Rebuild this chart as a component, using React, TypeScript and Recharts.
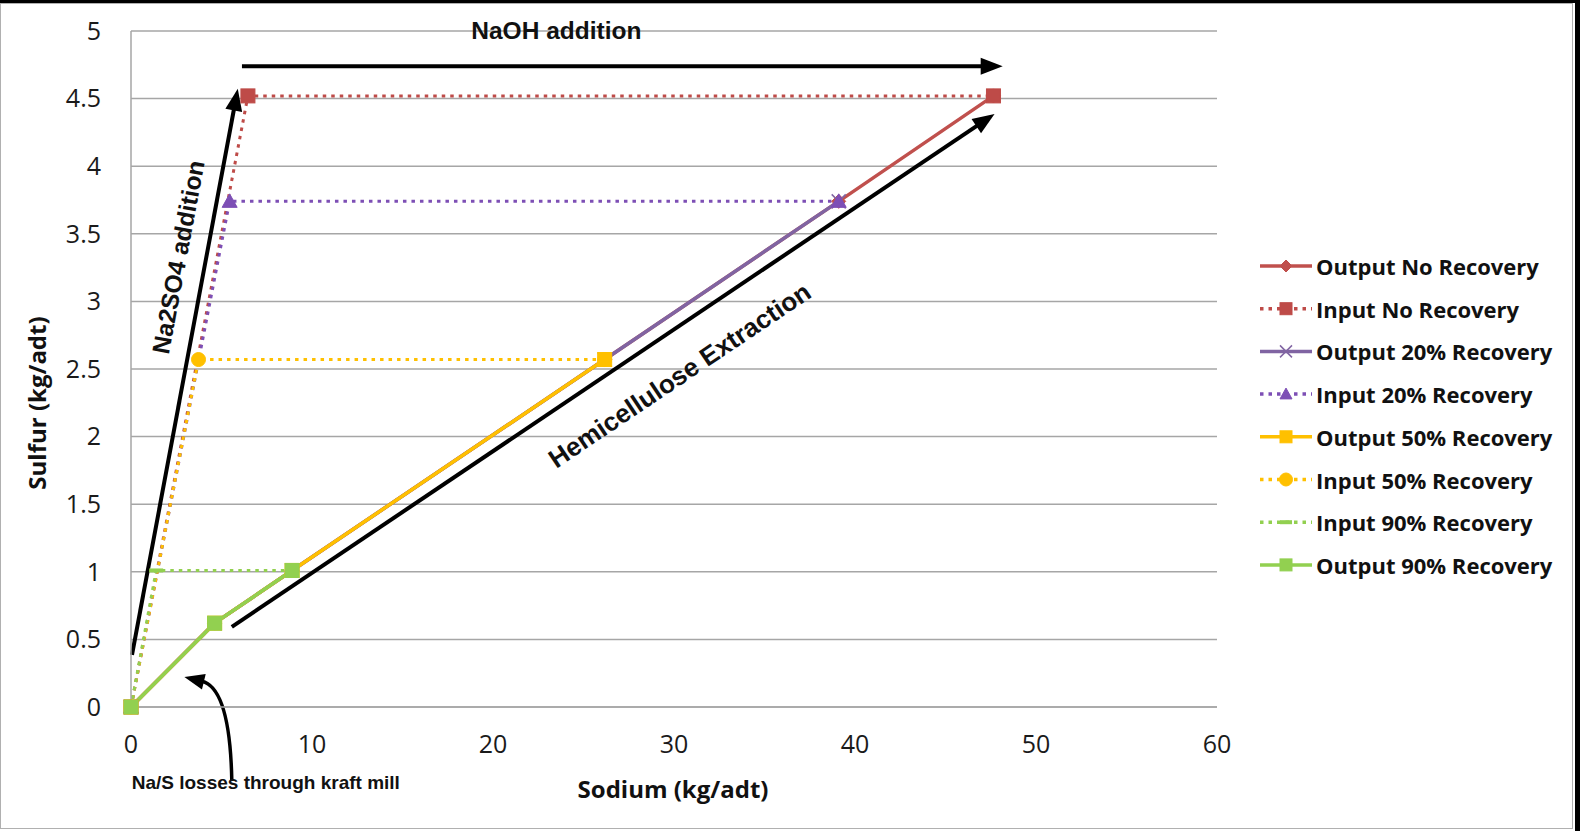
import React from 'react';
import { LineChart, Line, XAxis, YAxis, CartesianGrid, ReferenceLine } from 'recharts';

const xTicks = [0, 10, 20, 30, 40, 50, 60];
const yTicks = [0, 0.5, 1, 1.5, 2, 2.5, 3, 3.5, 4, 4.5, 5];

const outputNoRecovery = [
  { x: 0, y: 0 }, { x: 4.62, y: 0.62 }, { x: 8.9, y: 1.01 }, { x: 26.17, y: 2.57 }, { x: 39.1, y: 3.74 }, { x: 47.65, y: 4.52 },
];
const inputNoRecovery = [{ x: 0, y: 0 }, { x: 6.46, y: 4.52 }, { x: 47.65, y: 4.52 }];
const output20 = [
  { x: 0, y: 0 }, { x: 4.62, y: 0.62 }, { x: 8.9, y: 1.01 }, { x: 26.17, y: 2.57 }, { x: 39.1, y: 3.74 },
];
const input20 = [{ x: 0, y: 0 }, { x: 5.45, y: 3.74 }, { x: 39.1, y: 3.74 }];
const output50 = [{ x: 0, y: 0 }, { x: 4.62, y: 0.62 }, { x: 8.9, y: 1.01 }, { x: 26.17, y: 2.57 }];
const input50 = [{ x: 0, y: 0 }, { x: 3.73, y: 2.57 }, { x: 26.17, y: 2.57 }];
const input90 = [{ x: 0, y: 0 }, { x: 1.39, y: 1.01 }, { x: 8.9, y: 1.01 }];
const output90 = [{ x: 0, y: 0 }, { x: 4.62, y: 0.62 }, { x: 8.9, y: 1.01 }];

type Series = { name: string; data: { x: number; y: number }[]; color: string; dashed: boolean; marker: string };

const S: Record<string, Series> = {
  outNo: { name: 'Output No Recovery', data: outputNoRecovery, color: '#C0504D', dashed: false, marker: 'diamond' },
  inNo: { name: 'Input No Recovery', data: inputNoRecovery, color: '#BE4B48', dashed: true, marker: 'square' },
  out20: { name: 'Output 20% Recovery', data: output20, color: '#8064A2', dashed: false, marker: 'x' },
  in20: { name: 'Input 20% Recovery', data: input20, color: '#7D4FB5', dashed: true, marker: 'triangle' },
  out50: { name: 'Output 50% Recovery', data: output50, color: '#FFC000', dashed: false, marker: 'square' },
  in50: { name: 'Input 50% Recovery', data: input50, color: '#FFC000', dashed: true, marker: 'circle' },
  in90: { name: 'Input 90% Recovery', data: input90, color: '#92D050', dashed: true, marker: 'dash' },
  out90: { name: 'Output 90% Recovery', data: output90, color: '#92D050', dashed: false, marker: 'square' },
};

const drawOrder = ['outNo', 'inNo', 'out20', 'in20', 'in50', 'out50', 'in90', 'out90'];
const legendOrder = ['outNo', 'inNo', 'out20', 'in20', 'out50', 'in50', 'in90', 'out90'];

const annotations = [
  { id: 'naoh', label: 'NaOH addition', from: { x: 6.13, y: 4.74 }, to: { x: 48.16, y: 4.74 }, along: -66, perp: 35.5, fontSize: 24.5 },
  { id: 'na2so4', label: 'Na2SO4 addition', from: { x: 0.055, y: 0.385 }, to: { x: 5.9, y: 4.573 }, along: 111.7, perp: 27.6, fontSize: 24.5 },
  { id: 'hemi', label: 'Hemicellulose Extraction', from: { x: 5.57, y: 0.593 }, to: { x: 47.71, y: 4.387 }, along: 52.4, perp: -41, fontSize: 26 },
];
const lossArrow = { label: 'Na/S losses through kraft mill', from: { x: 5.57, y: -0.547 }, control: { x: 5.47, y: 0.14 }, to: { x: 2.95, y: 0.221 } };

const GRID = '#A6A6A6';

function Marker({ type, cx, cy, color, s }: { type: string; cx: number; cy: number; color: string; s: number }) {
  const h = s / 2;
  switch (type) {
    case 'square':
      return <rect x={cx - h} y={cy - h} width={s} height={s} fill={color} stroke={color} strokeWidth={1} />;
    case 'diamond':
      return <polygon points={`${cx},${cy - h} ${cx + h},${cy} ${cx},${cy + h} ${cx - h},${cy}`} fill={color} stroke={color} />;
    case 'triangle':
      return <polygon points={`${cx},${cy - h} ${cx + h},${cy + h * 0.8} ${cx - h},${cy + h * 0.8}`} fill={color} stroke={color} />;
    case 'circle':
      return <circle cx={cx} cy={cy} r={h} fill={color} stroke={color} />;
    case 'x':
      return (
        <g stroke={color} strokeWidth={1.5}>
          <line x1={cx - h} y1={cy - h} x2={cx + h} y2={cy + h} />
          <line x1={cx - h} y1={cy + h} x2={cx + h} y2={cy - h} />
        </g>
      );
    case 'dash':
      return <rect x={cx - h} y={cy - 2} width={s} height={4} fill={color} />;
    default:
      return null;
  }
}

const makeArrow = (a: typeof annotations[number]) => (p: any) => {
  const { x1, y1, x2, y2 } = p;
  const dx = x2 - x1, dy = y2 - y1;
  const len = Math.hypot(dx, dy);
  const ux = dx / len, uy = dy / len;
  const nx = uy, ny = -ux;
  const hl = 22, hw = 8.5;
  const bx = x2 - ux * hl, by = y2 - uy * hl;
  const mx = (x1 + x2) / 2 + ux * a.along + nx * a.perp;
  const my = (y1 + y2) / 2 + uy * a.along + ny * a.perp;
  const ang = (Math.atan2(uy, ux) * 180) / Math.PI;
  return (
    <g>
      <line x1={x1} y1={y1} x2={bx + ux * 2} y2={by + uy * 2} stroke="#000" strokeWidth={4} />
      <polygon points={`${x2},${y2} ${bx + nx * hw},${by + ny * hw} ${bx - nx * hw},${by - ny * hw}`} fill="#000" />
      <text
        transform={`translate(${mx},${my}) rotate(${ang})`}
        textAnchor="middle"
        dominantBaseline="central"
        fontFamily="'Liberation Sans', Arial, sans-serif"
        fontWeight="bold"
        fontSize={a.fontSize}
        fill="#111"
      >
        {a.label}
      </text>
    </g>
  );
};

const curvedArrow = (p: any) => {
  const { x1, y1, x2, y2 } = p;
  const a = lossArrow;
  const cx = x1 + ((a.control.x - a.from.x) / (a.to.x - a.from.x)) * (x2 - x1);
  const cy = y1 + ((a.control.y - a.from.y) / (a.to.y - a.from.y)) * (y2 - y1);
  const dx = x2 - cx, dy = y2 - cy;
  const len = Math.hypot(dx, dy);
  const ux = dx / len, uy = dy / len;
  const nx = uy, ny = -ux;
  const hl = 20, hw = 8;
  const bx = x2 - ux * hl, by = y2 - uy * hl;
  return (
    <g>
      <path d={`M${x1},${y1} Q${cx},${cy} ${bx + ux * 2},${by + uy * 2}`} fill="none" stroke="#000" strokeWidth={3.5} />
      <polygon points={`${x2},${y2} ${bx + nx * hw},${by + ny * hw} ${bx - nx * hw},${by - ny * hw}`} fill="#000" />
      <text
        x={x1 + 34}
        y={y1 + 2}
        textAnchor="middle"
        dominantBaseline="central"
        fontFamily="'Liberation Sans', Arial, sans-serif"
        fontWeight="bold"
        fontSize={19}
        fill="#111"
      >
        {a.label}
      </text>
    </g>
  );
};

const tickStyle = { fontSize: 25, fill: '#1a1a1a', fontFamily: "'Open Sans', sans-serif" };

function LegendBox() {
  const rowH = 42.7;
  return (
    <svg width={320} height={360} style={{ position: 'absolute', left: 1258, top: 245 }}>
      {legendOrder.map((k, i) => {
        const s = S[k];
        const cy = 21 + i * rowH;
        return (
          <g key={k}>
            <line x1={2} y1={cy} x2={54} y2={cy} stroke={s.color} strokeWidth={3.5} strokeDasharray={s.dashed ? '3.5 5' : undefined} />
            <Marker type={s.marker} cx={28} cy={cy} color={s.color} s={s.marker === 'circle' ? 13 : 12} />
            <text x={58} y={cy} dominantBaseline="central" fontFamily="'Open Sans', sans-serif" fontWeight="bold" fontSize={22} fill="#111">
              {s.name}
            </text>
          </g>
        );
      })}
    </svg>
  );
}

export default function App() {
  return (
    <div style={{ position: 'absolute', left: 0, top: 0, width: 1580, height: 831, background: '#fff', overflow: 'hidden' }}>
      <div style={{ position: 'absolute', left: 0, top: 3, width: 1571, height: 824, border: '1.5px solid #B0B0B0' }} />
      <div style={{ position: 'absolute', left: 0, top: 0, width: 1580, height: 3, background: '#000' }} />
      <div style={{ position: 'absolute', left: 1575, top: 0, width: 5, height: 831, background: '#000' }} />
      <div style={{ position: 'absolute', left: 0, top: 0 }}>
        <LineChart width={1580} height={831} margin={{ top: 31, right: 363, bottom: 0, left: 0 }}>
          <CartesianGrid horizontal vertical={false} stroke={GRID} strokeWidth={1.5} />
          <XAxis
            type="number"
            dataKey="x"
            domain={[0, 60]}
            ticks={xTicks}
            height={124}
            axisLine={{ stroke: GRID, strokeWidth: 1.5 }}
            tickLine={false}
            tickSize={0}
            tickMargin={28}
            tick={tickStyle}
            label={{
              content: (p: any) => {
                const vb = p.viewBox;
                return (
                  <text x={vb.x + vb.width / 2 - 1} y={vb.y + 81} textAnchor="middle" dominantBaseline="central" fontFamily="'Open Sans', sans-serif" fontWeight="bold" fontSize={24} fill="#111">
                    Sodium (kg/adt)
                  </text>
                );
              },
            }}
          />
          <YAxis
            type="number"
            domain={[0, 5]}
            ticks={yTicks}
            width={131}
            axisLine={{ stroke: GRID, strokeWidth: 1.5 }}
            tickLine={false}
            tickSize={0}
            tickMargin={30}
            tick={tickStyle}
            label={{
              content: (p: any) => {
                const vb = p.viewBox;
                const x = 36, y = vb.y + vb.height / 2 + 34;
                return (
                  <text transform={`translate(${x},${y}) rotate(-90)`} textAnchor="middle" dominantBaseline="central" fontFamily="'Open Sans', sans-serif" fontWeight="bold" fontSize={24} fill="#111">
                    Sulfur (kg/adt)
                  </text>
                );
              },
            }}
          />
          {drawOrder.map((k) => {
            const s = S[k];
            const size = s.marker === 'triangle' ? 15 : 14;
            return (
              <Line
                key={k}
                name={s.name}
                data={s.data}
                dataKey="y"
                type="linear"
                stroke={s.color}
                strokeWidth={s.dashed ? 3 : 3.5}
                strokeDasharray={s.dashed ? '3.5 5' : undefined}
                isAnimationActive={false}
                activeDot={false}
                legendType="none"
                dot={(dp: any) => <Marker key={`${k}-${dp.index}`} type={s.marker} cx={dp.cx} cy={dp.cy} color={s.color} s={size} />}
              />
            );
          })}
          {annotations.map((a) => (
            <ReferenceLine key={a.id} segment={[a.from, a.to]} ifOverflow="visible" shape={makeArrow(a)} />
          ))}
          <ReferenceLine segment={[lossArrow.from, lossArrow.to]} ifOverflow="visible" shape={curvedArrow} />
        </LineChart>
      </div>
      <LegendBox />
    </div>
  );
}
